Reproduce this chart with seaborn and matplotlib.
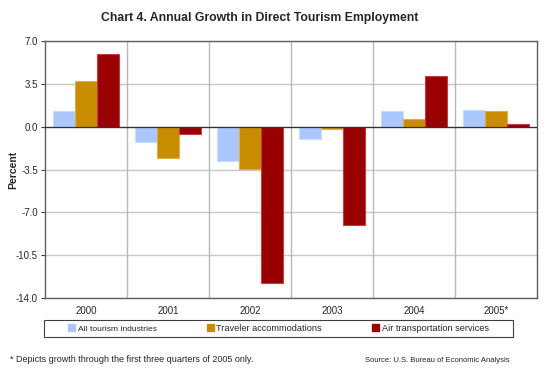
import matplotlib
matplotlib.use("Agg")
import matplotlib.pyplot as plt
import seaborn as sns
import pandas as pd
import numpy as np

years = ["2000", "2001", "2002", "2003", "2004", "2005*"]
all_tourism = [1.32, -1.24, -2.81, -1.03, 1.32, 1.38]
accommodations = [3.73, -2.54, -3.46, -0.19, 0.65, 1.32]
air_transport = [5.92, -0.57, -12.76, -8.03, 4.11, 0.22]
series_names = ["All tourism industries", "Traveler accommodations", "Air transportation services"]
yticks = [7.0, 3.5, 0.0, -3.5, -7.0, -10.5, -14.0]

df = pd.DataFrame({
    "Year": years * 3,
    "Series": [series_names[0]] * 6 + [series_names[1]] * 6 + [series_names[2]] * 6,
    "Value": all_tourism + accommodations + air_transport,
})

sns.set_style("white")
plt.rcParams["font.family"] = ["Liberation Sans", "DejaVu Sans"]

colors = ["#AAC8FF", "#C88C00", "#990000"]
edges = ["#C8DCFF", "#E0B040", "#C04040"]

fig = plt.figure(figsize=(5.5, 3.75), dpi=100)
ax = fig.add_axes([45/550, 1-298/375, (537-45)/550, (298-41)/375])

sns.barplot(data=df, x="Year", y="Value", hue="Series", palette=colors,
            width=0.8, ax=ax, legend=False, saturation=1)

for i, cont in enumerate(ax.containers):
    for p in cont:
        p.set_edgecolor(edges[i])
        p.set_linewidth(0.8)
        p.set_zorder(3)

ax.set_ylim(-14, 7)
ax.set_xlim(-0.5, len(years) - 0.5)
ax.set_yticks(yticks)
ax.set_yticklabels([f"{v:.1f}" for v in yticks], fontsize=7)
ax.tick_params(axis="y", length=3, width=0.8, color="#404040", pad=2, left=True)
ax.tick_params(axis="x", length=0, labelsize=7, pad=6)
ax.set_xlabel("")
ax.set_ylabel("Percent", fontsize=7.5, fontweight="bold")
ax.yaxis.set_label_coords(-0.055, 0.5)

for y in yticks:
    ax.axhline(y, color="#C8C8C8", lw=1.0, zorder=0)
for x in np.arange(0.5, len(years) - 0.5, 1):
    ax.axvline(x, color="#B8B8B8", lw=1.0, zorder=0)
ax.axhline(0, color="#303030", lw=0.9, zorder=4)

for s in ax.spines.values():
    s.set_color("#606060")
    s.set_linewidth(1.0)
    s.set_visible(True)

fig.text(260/550, 1 - 18/375, "Chart 4. Annual Growth in Direct Tourism Employment",
         ha="center", va="center", fontsize=8.8, fontweight="bold")

# legend box
fig.patches.append(plt.Rectangle((44/550, 1-337/375), (513-44)/550, 17/375,
                                 transform=fig.transFigure, facecolor="white",
                                 edgecolor="#404040", lw=0.8))
handles = [plt.Rectangle((0, 0), 1, 1, facecolor=c, edgecolor=c) for c in colors]
leg = fig.legend(handles, series_names, loc="center",
                 bbox_to_anchor=(278.5/550, 1-328.5/375),
                 ncol=3, fontsize=6.6, frameon=False,
                 handlelength=0.75, handleheight=0.75, handletextpad=0.3,
                 borderaxespad=0, borderpad=0.0, columnspacing=5.5)
for i, t in enumerate(leg.get_texts()):
    if i == 0:
        t.set_fontsize(6.1)

fig.text(10/550, 1 - 360/375, "* Depicts growth through the first three quarters of 2005 only.",
         ha="left", va="center", fontsize=6.5)
fig.text(510/550, 1 - 361/375, "Source: U.S. Bureau of Economic Analysis",
         ha="right", va="center", fontsize=5.5)

fig.savefig("out.png", dpi=100)
